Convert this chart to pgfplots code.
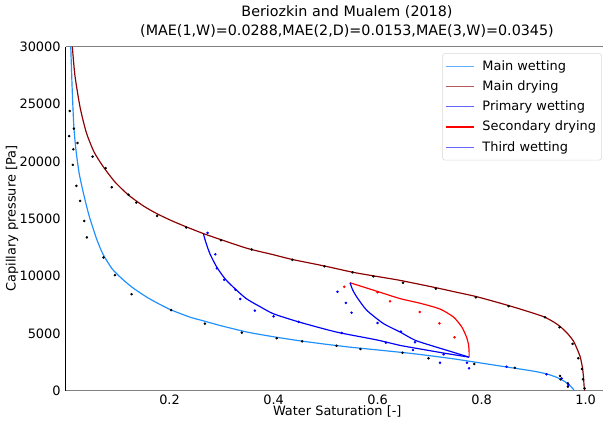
\documentclass[border=0pt]{standalone}
\usepackage{fontspec}
\setmainfont{DejaVu Sans}
\usepackage{pgfplots}
\pgfplotsset{compat=1.18}

\definecolor{mwet}{RGB}{30,144,255}
\definecolor{mdry}{RGB}{139,0,0}
\definecolor{pwet}{RGB}{0,0,255}
\definecolor{sdry}{RGB}{255,0,0}
\definecolor{mwetL}{RGB}{98,172,255}
\definecolor{mdryL}{RGB}{180,90,90}
\definecolor{pwetL}{RGB}{100,100,255}

\begin{document}
\begin{tikzpicture}
\begin{axis}[
    name=ax,
    scale only axis,
    width=391.3pt, height=247.7pt,
    xmin=0, xmax=1.045, ymin=0, ymax=30000,
    xtick={0.2,0.4,0.6,0.8,1.0},
    ytick={0,5000,10000,15000,20000,25000,30000},
    scaled ticks=false,
    /pgf/number format/assume math mode=true,
    xticklabel style={/pgf/number format/fixed, /pgf/number format/fixed zerofill,
        /pgf/number format/precision=1, yshift=0.8pt},
    yticklabel style={/pgf/number format/1000 sep={}},
    major tick length=0pt,
    tick label style={font=\fontsize{9.3}{11}\selectfont},
    separate axis lines,
    x axis line style={draw=black!50, line width=1pt},
    y axis line style={draw=black, line width=0.8pt},
    every axis x label/.style={at={(rel axis cs:0.5,0)}, anchor=base, yshift=-18pt},
    every axis y label/.style={at={(rel axis cs:-0.0985,0.5)}, anchor=center, rotate=90},
    label style={font=\fontsize{9.3}{11}\selectfont},
    xlabel={Water Saturation [-]},
    ylabel={Capillary pressure [Pa]},
    title={Beriozkin and Mualem (2018)\\(MAE(1,W)=0.0288,MAE(2,D)=0.0153,MAE(3,W)=0.0345)},
    title style={align=center, font=\fontsize{10.3}{13}\selectfont, at={(0.5,1)},
        anchor=south, yshift=-2.5pt, xshift=7pt},
    legend style={at={(0.987,0.981)}, anchor=north east, draw=black!15, rounded corners=2pt,
        font=\fontsize{9.3}{11}\selectfont, inner xsep=2pt, inner ysep=3pt,
        nodes={inner sep=2pt}, row sep=2pt,
        /tikz/every odd column/.append style={column sep=4pt}},
    legend cell align=left,
    legend image code/.code={\draw[#1] (0pt,0pt) -- (20pt,0pt);},
]
% main wetting
\addplot[mwet, line width=0.85pt, smooth, tension=0.4, forget plot] coordinates {
(0.010,30000) (0.013,26000) (0.016,23000) (0.020,21000) (0.026,19000)
(0.034,17300) (0.045,15300) (0.060,13200) (0.072,11900) (0.090,10600)
(0.110,9700) (0.130,8950) (0.160,8050) (0.200,7100) (0.240,6400)
(0.260,6150) (0.300,5650) (0.350,5100) (0.400,4700) (0.450,4350)
(0.500,4050) (0.550,3780) (0.600,3550) (0.660,3270) (0.700,3050)
(0.750,2750) (0.800,2400) (0.850,2050) (0.900,1700) (0.926,1450)
(0.945,1150) (0.958,850) (0.966,600) (0.972,350) (0.976,150) (0.978,0)
};
% main drying
\addplot[mdry, line width=0.85pt, smooth, tension=0.4, forget plot] coordinates {
(0.013,30000) (0.018,27500) (0.028,24700) (0.040,22500) (0.055,20800)
(0.073,19500) (0.095,18200) (0.121,17060) (0.150,16100) (0.175,15450)
(0.205,14800) (0.233,14270) (0.265,13700) (0.300,13150) (0.350,12400)
(0.400,11850) (0.435,11450) (0.500,10850) (0.553,10320) (0.600,9950)
(0.643,9620) (0.712,8980) (0.750,8600) (0.791,8190) (0.852,7420)
(0.900,6750) (0.922,6400) (0.940,5950) (0.951,5600) (0.965,5000)
(0.977,4300) (0.985,3500) (0.990,2900) (0.994,2000) (0.996,1200)
(0.997,500) (0.998,0)
};
% primary wetting
\addplot[pwet, line width=0.85pt, smooth, tension=0.4, forget plot] coordinates {
(0.265,13700) (0.270,12900) (0.278,11900) (0.291,10760) (0.307,9740)
(0.326,8880) (0.348,8010) (0.375,7300) (0.400,6700) (0.451,5960)
(0.522,5100) (0.598,4430) (0.643,3950) (0.680,3650) (0.727,3280) (0.776,2920)
};
% secondary drying
\addplot[sdry, line width=0.85pt, smooth, tension=0.4, forget plot] coordinates {
(0.776,2920) (0.776,3400) (0.775,4000) (0.771,4680) (0.762,5550)
(0.746,6420) (0.720,7120) (0.682,7620) (0.643,8030) (0.600,8650) (0.547,9410)
};
% third wetting
\addplot[pwet, line width=0.85pt, smooth, tension=0.4, forget plot] coordinates {
(0.547,9410) (0.552,8800) (0.560,8170) (0.579,7020) (0.611,5860)
(0.643,5120) (0.672,4400) (0.707,3880) (0.739,3440) (0.776,2920)
};
% measured, main curves
\addplot[only marks, mark=*, mark size=0.7pt, black, forget plot] coordinates {
(0.007,22200) (0.008,24390) (0.014,19690) (0.015,21050) (0.016,22860)
(0.021,17860) (0.023,21600) (0.028,16550) (0.036,14800) (0.041,13360)
(0.073,11620) (0.095,10070) (0.127,8410) (0.203,7030) (0.268,5840)
(0.339,5060) (0.406,4570) (0.455,4300) (0.521,3910) (0.567,3630)
(0.648,3310) (0.698,2820) (0.786,2330) (0.864,1990) (0.951,1280)
(0.952,990) (0.966,640) (0.966,350)
(0.052,20410) (0.077,19400) (0.089,17740) (0.121,17090) (0.136,16400)
(0.176,15240) (0.232,14230) (0.299,13120) (0.358,12310) (0.436,11420)
(0.498,10840) (0.552,10320) (0.592,9970) (0.649,9410) (0.712,8900)
(0.789,8140) (0.852,7370) (0.922,6400) (0.950,5530) (0.975,4080)
(0.986,2830) (0.993,1890) (0.995,990) (0.998,200)
};
% measured, wetting scanning curves
\addplot[only marks, mark=*, mark size=0.7pt, pwet, forget plot] coordinates {
(0.273,13760) (0.288,11890) (0.291,10670) (0.305,9670) (0.327,8800)
(0.336,8000) (0.364,6980) (0.400,6480) (0.448,6000) (0.531,5030)
(0.616,4180) (0.668,3540) (0.727,3170) (0.720,2440) (0.772,2440)
(0.776,1950) (0.848,2090) (0.925,1430) (0.954,1070) (0.967,500)
(0.523,8620) (0.539,7650) (0.550,6800) (0.600,5900) (0.645,5150) (0.672,4220)
};
% measured, secondary drying
\addplot[only marks, mark=*, mark size=0.7pt, sdry, forget plot] coordinates {
(0.536,9060) (0.600,8580) (0.624,7790) (0.681,6860) (0.719,5870) (0.748,4650)
};
\addlegendimage{color=mwetL, line width=0.85pt}
\addlegendentry{Main wetting}
\addlegendimage{color=mdryL, line width=0.85pt}
\addlegendentry{Main drying}
\addlegendimage{color=pwetL, line width=0.85pt}
\addlegendentry{Primary wetting}
\addlegendimage{color=sdry, line width=0.85pt}
\addlegendentry{Secondary drying}
\addlegendimage{color=pwetL, line width=0.85pt}
\addlegendentry{Third wetting}
\end{axis}
\pgfresetboundingbox
\path[use as bounding box] (-47.2pt,-25.4pt) rectangle (387pt,281.3pt);
\end{tikzpicture}
\end{document}
